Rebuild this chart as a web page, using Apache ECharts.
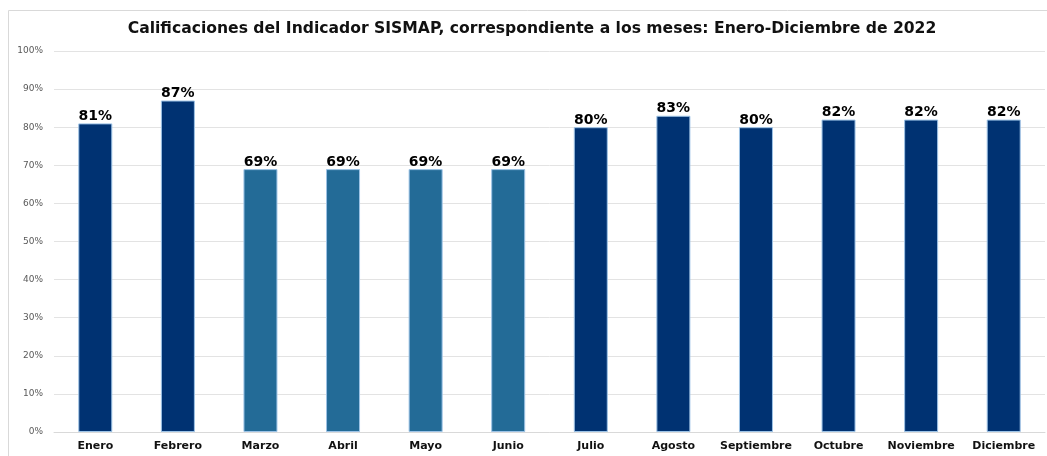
<!DOCTYPE html>
<html>
<head>
<meta charset="utf-8">
<script src="https://cdn.jsdelivr.net/npm/echarts@6/dist/echarts.min.js"></script>
<style>
  html, body { margin: 0; padding: 0; background: #fff; }
  #chart { width: 1047px; height: 456px; }
</style>
</head>
<body>
<div id="chart"></div>
<script>
// meses y calificaciones (en %)
var months = ['Enero', 'Febrero', 'Marzo', 'Abril', 'Mayo', 'Junio', 'Julio', 'Agosto', 'Septiembre', 'Octubre', 'Noviembre', 'Diciembre'];
var scores = [81, 87, 69, 69, 69, 69, 80, 83, 80, 82, 82, 82];
// meses que salen en el tono mas claro
var lightMonths = ['Marzo', 'Abril', 'Mayo', 'Junio'];
var yTicks = [0, 10, 20, 30, 40, 50, 60, 70, 80, 90, 100];

var chart = echarts.init(document.getElementById('chart'));

var barData = months.map(function (m, i) {
  var light = lightMonths.indexOf(m) >= 0;
  return {
    value: scores[i],
    itemStyle: { color: light ? '#236B97' : '#003272' }
  };
});

chart.setOption({
  animation: false,
  title: {
    text: 'Calificaciones del Indicador SISMAP, correspondiente a los meses: Enero-Diciembre de 2022',
    left: 527,
    textAlign: 'center',
    top: 16,
    textStyle: { fontFamily: 'DejaVu Sans', fontWeight: 'bold', fontSize: 15.6, color: '#111' }
  },
  graphic: [{
    type: 'polyline',
    silent: true,
    shape: { points: [[8.5, 456], [8.5, 10.5], [1047, 10.5]] },
    style: { stroke: '#d9d9d9', lineWidth: 1, fill: null }
  }],
  grid: { left: 54, right: 2, top: 51, bottom: 24, containLabel: false },
  xAxis: {
    type: 'category',
    data: months,
    axisLine: { show: true, lineStyle: { color: '#d9d9d9' } },
    axisTick: { show: false },
    axisLabel: {
      interval: 0,
      margin: 9,
      fontFamily: 'DejaVu Sans', fontWeight: 'bold', fontSize: 11, color: '#111'
    }
  },
  yAxis: {
    type: 'value',
    min: yTicks[0],
    max: yTicks[yTicks.length - 1],
    interval: 10,
    axisLine: { show: false },
    axisTick: { show: false },
    splitLine: { lineStyle: { color: '#e3e3e3' } },
    axisLabel: {
      margin: 11,
      formatter: '{value}%',
      fontFamily: 'DejaVu Sans', fontSize: 9, color: '#595959'
    }
  },
  series: [{
    type: 'bar',
    data: barData,
    barWidth: 34,
    itemStyle: { borderColor: '#9DC3E6', borderWidth: 1 },
    label: {
      show: true,
      position: 'top',
      distance: 0,
      formatter: '{c}%',
      fontFamily: 'DejaVu Sans', fontWeight: 'bold', fontSize: 14, color: '#000'
    }
  }]
});
</script>
</body>
</html>
